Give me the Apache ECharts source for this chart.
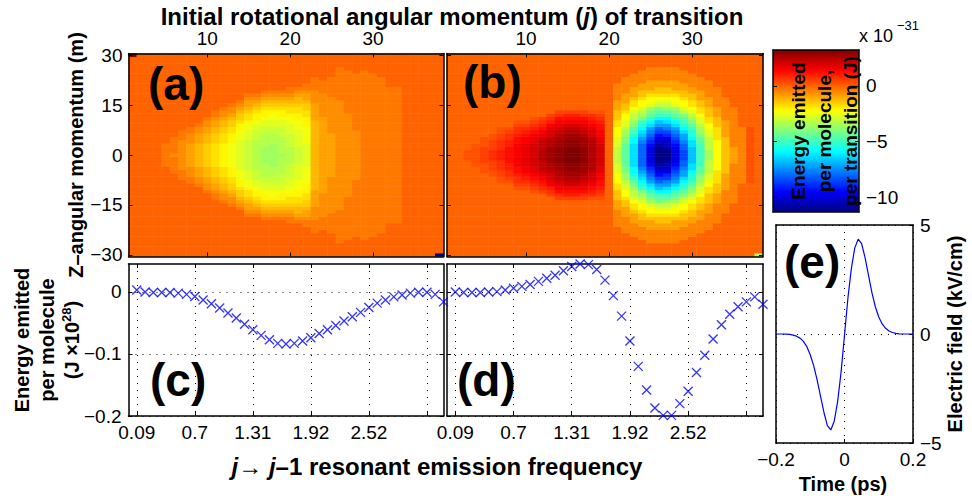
<!DOCTYPE html>
<html>
<head>
<meta charset="utf-8">
<title>Rotational emission maps</title>
<script src="https://cdn.jsdelivr.net/npm/echarts@6.0.0/dist/echarts.min.js"></script>
<style>
  html, body { margin: 0; padding: 0; background: #ffffff; }
  #chart { width: 972px; height: 499px; }
</style>
</head>
<body>
<div id="chart"></div>
<script>
// ---------------- data ----------------
// Initial rotational quantum number j of each transition (map columns, line-plot points)
const jValues = [1,2,3,4,5,6,7,8,9,10,11,12,13,14,15,16,17,18,19,20,21,22,23,24,25,26,27,28,29,30,31,32,33,34,35,36,37,38];
// Projection quantum number m (map rows)
const mValues = [-30,-29,-28,-27,-26,-25,-24,-23,-22,-21,-20,-19,-18,-17,-16,-15,-14,-13,-12,-11,-10,-9,-8,-7,-6,-5,-4,-3,-2,-1,0,1,2,3,4,5,6,7,8,9,10,11,12,13,14,15,16,17,18,19,20,21,22,23,24,25,26,27,28,29,30];

// Tick values / labels
const jTickValues = [10, 20, 30];
const mTickValues = [30, 15, 0, -15, -30];
const freqTickJ = [1, 8, 15, 22, 29, 36];
const freqTickLabels = ['0.09', '0.7', '1.31', '1.92', '2.52', ''];
const energyTicks = [0, -0.1, -0.2];
const colorTicks = [0, -5, -10];
const timeTicks = [-0.2, 0, 0.2];
const fieldTicks = [-5, 0, 5];

// Energy per molecule per transition, units of 1e-31 J.
// One string per column j, listing levels from |m| = 0 outward (maps are symmetric in m).
// lower-case letter = negative level (a = 1 step, b = 2 steps, ...), upper-case = positive level,
// a number before a letter repeats it; cells not listed are zero.
const STEP_A = { neg: 0.3, pos: 0.25 };
const mapA = [
  '', '', '', '', '4a', 'b5a', '5b3a', '4c3b2a', '4d3c2ba', '4e3d2c2ba',
  '4f3e2d2cb2a', '4g3f2e2dc2ba', '4h3g2f2edc2ba', '5i3h2gf2edcba', '5j3i2hg2fed2cba',
  '5k3j2ih2gfedcba', '3l4k2j2ih2gfedcba', '4l3k2j2i2hgfedcba', 'l5k3j2ih2gfedcba', '3k4j3i2hg2fedcb2a',
  '3j5i3h2g2fe2dcba', '4i5h3g2f2ed2cb2a', '11d5c4b4a', '12c7b4a', '7c11b6a',
  '17b10a', '13b13a', '8b17a', '26a', '25a', '24a', '21a', '21a', '', '', '', '', ''
];
// single cells that are not mirrored: [j, m, value]
const mapAExtra = [[1, 30, 3.24], [38, -30, -10.8]];

const STEP_B = { neg: 0.45, pos: 0.25 };
const mapB = [
  '', '', '2A', '4A', '3B3A', '2C3B2A', '2D3C2B2A', '3E2D2CBA', '4F2ED2CBA', '4G2FEDCBA',
  '4H2GFEDCBA', '2J3IHGFEDCB', '3K2JI2HGFDCB', '3L2K2JIHGFECB', '3M2L2KJIHFEDB',
  '3M2L2KJIHFEDB', '3L3KJIHGFECB', '5JI2HGFEDCA', '4H2G2F2EDCBA', '',
  '3g3f3e2d3c3b5a', '4j2i2hg2f2ed2c3b5a', '4n2mlkjih2gfe2dc3b4a', '4rqponmlkihgf2ed2c2b4a', '3vutsrqpnmkjihf2edc3b4a',
  '3yxwvusrpomkjigfed2c2b4a', '2yx2wvtsqpnmkjhgfed2c2b4a', '3vutsrqpnmkjihf2edc3b4a', '2s2rq2pnmlkjigf2ed2c2b4a', '3o2nm2lkjihgfe2d2c2b4a',
  '4k2ji2hg2fe2d2c3b4a', '2h4g2f2e2d3c3b5a', '5e4d3c3b6a', '6c5b7a', '3b12a', '9a', '9A', ''
];
const mapBExtra = [[38, -30, -3.4]];

// Energy emitted per molecule (units of 1e-28 J) against j
const energyC = [0.003, 0.0, -0.001, -0.001, -0.001, -0.002, -0.004, -0.0075, -0.013, -0.019,
  -0.026, -0.034, -0.042, -0.052, -0.061, -0.070, -0.077, -0.083, -0.084, -0.083,
  -0.079, -0.074, -0.067, -0.061, -0.054, -0.047, -0.040, -0.033, -0.025, -0.018,
  -0.013, -0.008, -0.005, -0.002, -0.0005, -0.0005, -0.004, -0.016];
const energyD = [0.0, -0.001, -0.001, -0.001, 0.0, 0.0005, 0.003, 0.006, 0.009, 0.012,
  0.017, 0.022, 0.027, 0.034, 0.041, 0.045, 0.044, 0.036, 0.019, -0.006,
  -0.039, -0.079, -0.120, -0.158, -0.187, -0.199, -0.199, -0.180, -0.160, -0.130,
  -0.102, -0.076, -0.053, -0.036, -0.024, -0.016, -0.008, -0.020];

// Driving pulse: time (ps) and electric field (kV/cm)
const timePs = [-0.2,-0.19,-0.18,-0.17,-0.16,-0.15,-0.14,-0.13,-0.12,-0.11,-0.1,-0.09,-0.08,-0.07,-0.06,-0.05,-0.04,-0.03,-0.02,-0.01,
  0,0.01,0.02,0.03,0.04,0.05,0.06,0.07,0.08,0.09,0.1,0.11,0.12,0.13,0.14,0.15,0.16,0.17,0.18,0.19,0.2];
const fieldKVcm = [0,0,0,-0.01,-0.02,-0.05,-0.1,-0.19,-0.34,-0.58,-0.95,-1.45,-2.1,-2.85,-3.6,-4.2,-4.4,-4.0,-3.1,-1.75,
  -0.05,1.65,3.0,3.95,4.35,4.15,3.5,2.7,1.9,1.25,0.78,0.46,0.26,0.14,0.07,0.03,0.01,0,0,0,0];

// Colour scale limits (units of 1e-31 J)
const colorMin = -11.35, colorMax = 3.24;

// ---------------- helpers ----------------
function decodeProfile(code, step) {
  const out = [];
  const re = /(\d*)([A-Za-z.])/g;
  let t;
  while ((t = re.exec(code))) {
    const n = t[1] ? parseInt(t[1], 10) : 1;
    const ch = t[2];
    let v = 0;
    if (ch >= 'a' && ch <= 'z') v = -(ch.charCodeAt(0) - 96) * step.neg;
    else if (ch >= 'A' && ch <= 'Z') v = (ch.charCodeAt(0) - 64) * step.pos;
    for (let i = 0; i < n; i++) out.push(v);
  }
  return out;
}
function buildMap(columns, extra, step) {
  const data = [];
  columns.forEach((code, xi) => {
    const prof = decodeProfile(code, step);
    mValues.forEach((m, yi) => {
      data.push([xi, yi, prof[Math.abs(m)] || 0]);
    });
  });
  extra.forEach(([j, m, v]) => {
    data[jValues.indexOf(j) * mValues.length + mValues.indexOf(m)][2] = v;
  });
  return data;
}

const FONT = '"Liberation Sans", Arial, Helvetica, sans-serif';
const AX = { color: '#000', width: 1.5 };
const TICK = { color: '#000', width: 1 };
const labelStyle = { color: '#000', fontSize: 19, fontFamily: FONT };
const dotted = { show: true, lineStyle: { color: '#000', width: 1, type: [1, 6] } };
const minus = v => String(v).replace('-', '\u2212');

function catX(grid, pos, showLabel) {
  const pick = (i, v) => jTickValues.includes(Number(v));
  return {
    type: 'category', gridIndex: grid, position: pos, data: jValues.map(String), z: 5,
    axisLine: { show: true, lineStyle: AX },
    axisTick: { show: true, inside: true, length: 4, alignWithLabel: true, interval: pick, lineStyle: TICK },
    axisLabel: Object.assign({ show: showLabel, interval: pick, margin: 6 }, labelStyle),
    splitLine: { show: false }
  };
}
function catY(grid, pos, showLabel) {
  const pick = (i, v) => mTickValues.includes(Number(v));
  return {
    type: 'category', gridIndex: grid, position: pos, data: mValues.map(String), z: 5,
    axisLine: { show: true, lineStyle: AX },
    axisTick: { show: true, inside: true, length: 4, alignWithLabel: true, interval: pick, lineStyle: TICK },
    axisLabel: Object.assign({ show: showLabel, interval: pick, margin: 6, formatter: minus }, labelStyle),
    splitLine: { show: false }
  };
}
function valAxis(grid, pos, min, max, ticks, showLabel, fmt, split, tickLen) {
  return {
    type: 'value', gridIndex: grid, position: pos, min: min, max: max, z: 5,
    axisLine: { show: true, onZero: false, lineStyle: AX },
    axisTick: { show: tickLen > 0, inside: true, length: tickLen, customValues: ticks, lineStyle: TICK },
    axisLabel: Object.assign({ show: showLabel, customValues: ticks, formatter: fmt, margin: 7 }, labelStyle),
    splitLine: split ? dotted : { show: false }
  };
}
const freqFmt = v => freqTickLabels[freqTickJ.indexOf(v)] || '';

const jet = ['#00007f', '#0000ff', '#007fff', '#00ffff', '#7fff7f', '#ffff00', '#ff7f00', '#ff0000', '#7f0000'];
const crossSymbol = 'path://M0,0L10,10M10,0L0,10';
const bold = size => ({ fontSize: size, fontWeight: 'bold', fontFamily: FONT, fill: '#000' });

const chart = echarts.init(document.getElementById('chart'), null, { renderer: 'svg' });

const option = {
  animation: false,
  backgroundColor: '#ffffff',
  textStyle: { fontFamily: FONT },
  grid: [
    { left: 128.5, top: 53.5, width: 315, height: 203 },
    { left: 447, top: 53.5, width: 316, height: 203 },
    { left: 128.5, top: 264, width: 315, height: 152 },
    { left: 447, top: 264, width: 316, height: 152 },
    { left: 776, top: 225, width: 137, height: 218 },
    { left: 773, top: 50, width: 86, height: 162 }
  ].map(g => Object.assign({ show: false, containLabel: false, outerBoundsMode: 'none' }, g)),
  xAxis: [
    catX(0, 'top', true), catX(0, 'bottom', false),
    catX(1, 'top', true), catX(1, 'bottom', false),
    valAxis(2, 'bottom', 0, 38, freqTickJ, true, freqFmt, true, 4),
    valAxis(2, 'top', 0, 38, freqTickJ, false, null, false, 4),
    valAxis(3, 'bottom', 0, 38, freqTickJ, true, freqFmt, true, 4),
    valAxis(3, 'top', 0, 38, freqTickJ, false, null, false, 4),
    valAxis(4, 'bottom', -0.2, 0.2, timeTicks, true, minus, true, 4),
    valAxis(4, 'top', -0.2, 0.2, timeTicks, false, null, false, 0),
    valAxis(5, 'top', 0, 1, [], false, null, false, 0),
    valAxis(5, 'bottom', 0, 1, [], false, null, false, 0)
  ],
  yAxis: [
    catY(0, 'left', true), catY(0, 'right', false),
    catY(1, 'left', false), catY(1, 'right', false),
    valAxis(2, 'left', -0.2, 0.045, energyTicks, true, minus, true, 4),
    valAxis(2, 'right', -0.2, 0.045, energyTicks, false, null, false, 4),
    valAxis(3, 'left', -0.2, 0.045, energyTicks, false, null, true, 4),
    valAxis(3, 'right', -0.2, 0.045, energyTicks, false, null, false, 4),
    valAxis(4, 'right', -5, 5, fieldTicks, true, minus, true, 4),
    valAxis(4, 'left', -5, 5, fieldTicks, false, null, false, 0),
    valAxis(5, 'right', colorMin, colorMax, colorTicks, true, minus, false, 4),
    valAxis(5, 'left', colorMin, colorMax, colorTicks, false, null, false, 4)
  ],
  visualMap: {
    type: 'continuous', min: colorMin, max: colorMax, seriesIndex: [0, 1], dimension: 2,
    inRange: { color: jet }, calculable: false, hoverLink: false, show: true,
    orient: 'vertical', left: 773, top: 50, itemWidth: 86, itemHeight: 162, padding: 0, text: null
  },
  series: [
    { type: 'heatmap', xAxisIndex: 0, yAxisIndex: 0, data: buildMap(mapA, mapAExtra, STEP_A), emphasis: { disabled: true } },
    { type: 'heatmap', xAxisIndex: 2, yAxisIndex: 2, data: buildMap(mapB, mapBExtra, STEP_B), emphasis: { disabled: true } },
    { type: 'scatter', xAxisIndex: 4, yAxisIndex: 4, z: 6, clip: false,
      data: jValues.map((j, i) => [j, energyC[i]]), symbol: crossSymbol, symbolSize: 9,
      itemStyle: { color: 'rgba(0,0,0,0)', borderColor: '#0000ff', borderWidth: 1.3 } },
    { type: 'scatter', xAxisIndex: 6, yAxisIndex: 6, z: 6, clip: false,
      data: jValues.map((j, i) => [j, energyD[i]]), symbol: crossSymbol, symbolSize: 9,
      itemStyle: { color: 'rgba(0,0,0,0)', borderColor: '#0000ff', borderWidth: 1.3 } },
    { type: 'line', xAxisIndex: 8, yAxisIndex: 8, z: 6, symbol: 'none', smooth: false,
      data: timePs.map((t, i) => [t, fieldKVcm[i]]), lineStyle: { color: '#0000ff', width: 1.2 } }
  ],
  graphic: { elements: [
    { type: 'text', x: 452, y: 16, z: 100, style: {
      text: '{b|Initial rotational angular momentum (}{i|j}{b|) of transition}',
      rich: { b: bold(24), i: Object.assign(bold(24), { fontStyle: 'italic' }) },
      align: 'center', verticalAlign: 'middle' } },
    { type: 'text', x: 76, y: 155, z: 100, rotation: Math.PI / 2, style: Object.assign(bold(20), {
      text: 'Z\u2013angular momentum (m)', align: 'center', verticalAlign: 'middle' }) },
    { type: 'text', x: 47, y: 340, z: 100, rotation: Math.PI / 2, style: {
      text: '{b|Energy emitted}\n{b|per molecule}\n{b|(J \u00d710}{s|28}{b|)}',
      rich: { b: Object.assign(bold(20), { lineHeight: 25 }), s: Object.assign(bold(13), { lineHeight: 25, verticalAlign: 'top' }) },
      align: 'center', verticalAlign: 'middle' } },
    { type: 'text', x: 437, y: 466, z: 100, style: {
      text: '{i|j}{b|\u2192 }{i|j}{b|\u20131 resonant emission frequency}',
      rich: { b: bold(24), i: Object.assign(bold(24), { fontStyle: 'italic' }) },
      align: 'center', verticalAlign: 'middle' } },
    { type: 'text', x: 824, y: 131, z: 100, rotation: Math.PI / 2, style: Object.assign(bold(19), {
      text: 'Energy emitted\nper molecule,\nper transition (J)', lineHeight: 26, align: 'center', verticalAlign: 'middle' }) },
    { type: 'text', x: 859, y: 36, z: 100, style: { text: 'x 10', fontSize: 18, fontFamily: FONT, fill: '#000', align: 'left', verticalAlign: 'middle' } },
    { type: 'text', x: 897, y: 25, z: 100, style: { text: '\u221231', fontSize: 13, fontFamily: FONT, fill: '#000', align: 'left', verticalAlign: 'middle' } },
    { type: 'text', x: 843, y: 484, z: 100, style: Object.assign(bold(20), { text: 'Time (ps)', align: 'center', verticalAlign: 'middle' }) },
    { type: 'text', x: 955, y: 334, z: 100, rotation: Math.PI / 2, style: Object.assign(bold(20), {
      text: 'Electric field (kV/cm)', align: 'center', verticalAlign: 'middle' }) },
    { type: 'text', x: 148, y: 84, z: 100, style: Object.assign(bold(46), { text: '(a)', align: 'left', verticalAlign: 'middle' }) },
    { type: 'text', x: 463, y: 82, z: 100, style: Object.assign(bold(46), { text: '(b)', align: 'left', verticalAlign: 'middle' }) },
    { type: 'text', x: 150, y: 380, z: 100, style: Object.assign(bold(46), { text: '(c)', align: 'left', verticalAlign: 'middle' }) },
    { type: 'text', x: 457, y: 380, z: 100, style: Object.assign(bold(46), { text: '(d)', align: 'left', verticalAlign: 'middle' }) },
    { type: 'text', x: 784, y: 262, z: 100, style: Object.assign(bold(46), { text: '(e)', align: 'left', verticalAlign: 'middle' }) }
  ] }
};

chart.setOption(option);
</script>
</body>
</html>
